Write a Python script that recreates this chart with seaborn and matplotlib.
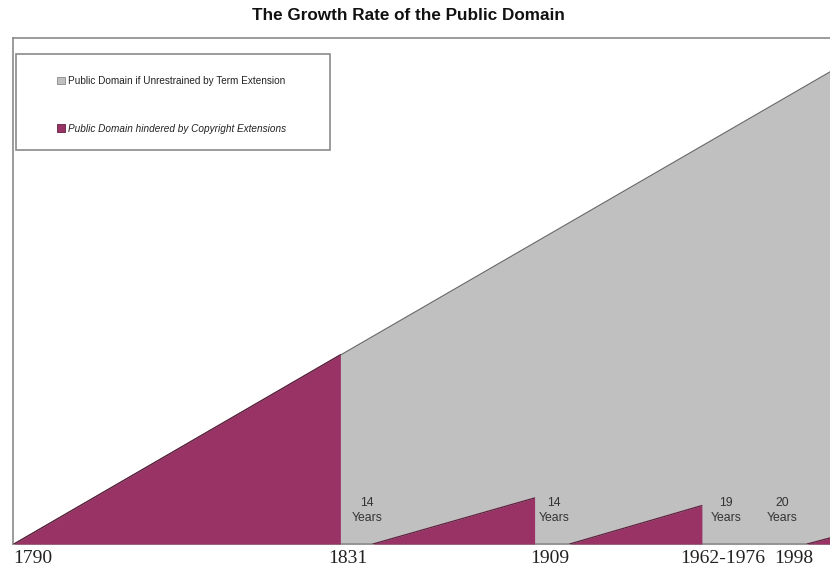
import matplotlib
matplotlib.use("Agg")
import matplotlib.pyplot as plt
from matplotlib.patches import Patch, Rectangle
import pandas as pd
import seaborn as sns

# positions on an arbitrary 0-100 time scale (the original axis is not linear in years)
unrestrained_x = [0, 100]
unrestrained_y = [0, 93.3]

seg_start = [0, 44.0, 68.1, 97.2]
seg_end = [40.0, 63.8, 84.3, 100]
seg_peak = [37.4, 9.1, 7.6, 1.2]

tick_pos = [2.3, 40.9, 65.7, 86.8, 95.6]
tick_labels = ["1790", "1831", "1909", "1962-1976", "1998"]

years_pos = [43.3, 66.2, 87.3, 94.1]
years_labels = ["14\nYears", "14\nYears", "19\nYears", "20\nYears"]

gray = "#c0c0c0"
maroon = "#993366"

sns.set_theme(style="white")
plt.rcParams["font.family"] = ["Liberation Sans", "DejaVu Sans"]

fig = plt.figure(figsize=(8.3, 5.67), dpi=100)
ax = fig.add_axes([13 / 830, 23 / 567, 817 / 830, 506 / 567])

df = pd.DataFrame({"x": unrestrained_x, "y": unrestrained_y})
ax.fill_between(df["x"], 0, df["y"], color=gray, lw=0, zorder=1)
sns.lineplot(data=df, x="x", y="y", color="#6a6a6a", lw=0.9, ax=ax, zorder=2)

for s, e, p in zip(seg_start, seg_end, seg_peak):
    seg = pd.DataFrame({"x": [s, e], "y": [0, p]})
    ax.fill_between(seg["x"], 0, seg["y"], color=maroon, lw=0, zorder=3)
    sns.lineplot(data=seg, x="x", y="y", color="#5e1f3d", lw=0.9, ax=ax, zorder=4)

for xp, lab in zip(years_pos, years_labels):
    ax.text(xp, 6.6, lab, ha="center", va="center", fontsize=8.8,
            color="#333333", linespacing=1.4, zorder=5)

ax.set_xlim(-0.12, 100)
ax.set_ylim(0, 100)
ax.set_xticks(tick_pos)
ax.set_xticklabels(tick_labels, family=["Liberation Serif", "DejaVu Serif"],
                   fontsize=14, color="#222222")
ax.tick_params(axis="x", length=0, pad=4)
ax.set_yticks([])
ax.set_xlabel("")
ax.set_ylabel("")
for side in ["left", "top", "bottom"]:
    ax.spines[side].set_color("#8a8a8a")
    ax.spines[side].set_linewidth(1.2)
ax.spines["right"].set_visible(False)

# legend frame drawn separately, entries via legend
box = Rectangle((3 / 817, (544 - 150) / 506), 314 / 817, 96 / 506,
                transform=ax.transAxes, fill=True, facecolor="white",
                edgecolor="#8a8a8a", lw=1.2, zorder=6)
ax.add_patch(box)
handles = [Patch(facecolor=gray, edgecolor="#888888", lw=0.6),
           Patch(facecolor=maroon, edgecolor="#5e1f3d", lw=0.6)]
labels = ["Public Domain if Unrestrained by Term Extension",
          "Public Domain hindered by Copyright Extensions"]
leg = ax.legend(handles, labels, loc="upper left",
                bbox_to_anchor=((57 - 13) / 817, (544 - 76) / 506),
                frameon=False, borderpad=0, borderaxespad=0, fontsize=7.2,
                handlelength=0.75, handleheight=0.75, handletextpad=0.35,
                labelspacing=3.75)
leg.set_zorder(7)
leg.get_texts()[1].set_style("italic")
for t in leg.get_texts():
    t.set_color("#222222")

fig.text(408 / 830, 1 - 15 / 567, "The Growth Rate of the Public Domain",
         ha="center", va="center", fontsize=12.3, fontweight="bold",
         family=["Liberation Sans", "DejaVu Sans"], color="#111111")

fig.savefig("out.png", dpi=100)
